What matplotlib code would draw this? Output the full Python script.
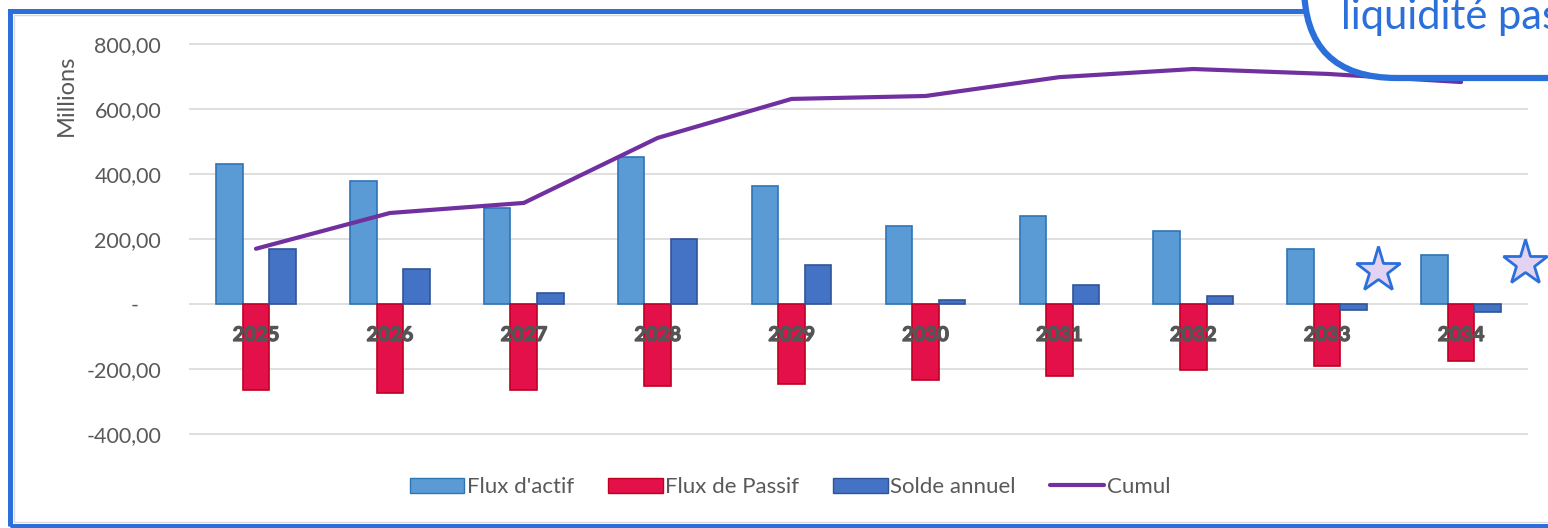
import numpy as np
import matplotlib
matplotlib.use("Agg")
import matplotlib.pyplot as plt
import matplotlib.patheffects as pe
from matplotlib.patches import Patch, Rectangle, FancyBboxPatch
from matplotlib.lines import Line2D
from matplotlib.ticker import FuncFormatter
from matplotlib.font_manager import FontProperties

plt.rcParams["font.family"] = ["Lato", "DejaVu Sans"]

years = ["2025", "2026", "2027", "2028", "2029", "2030", "2031", "2032", "2033", "2034"]
flux_actif = [431, 378, 295, 452, 363, 240, 271, 225, 169, 151]
flux_passif = [-265, -274, -265, -252, -246, -234, -221, -203, -191, -175]
solde_annuel = [169, 108, 34, 200, 120, 12, 58, 25, -18, -24]
cumul = [170, 280, 311, 511, 631, 640, 698, 723, 708, 683]
y_ticks = [-400, -200, 0, 200, 400, 600, 800]

grey = "#595959"
blue_frame = "#2B6FDB"
year_font = FontProperties(family="Lato", weight="bold", size=14.5)

W, H = 1548, 528
fig = plt.figure(figsize=(W / 100, H / 100), dpi=100)

# axes placed in pixels: x 189..1528, y for -410..810 with 0.325 px per unit
ymin, ymax = -410, 810
top_px = 304 - ymax * 0.325
bot_px = 304 - ymin * 0.325
ax = fig.add_axes([189 / W, 1 - bot_px / H, (1528 - 189) / W, (bot_px - top_px) / H])
ax.set_ylim(ymin, ymax)
ax.set_xlim(-0.5, len(years) - 0.5)

x = np.arange(len(years))
w = 0.198
ax.bar(x - w, flux_actif, w, color="#5B9BD5", edgecolor="#2E75B6", linewidth=1.2, label="Flux d'actif")
ax.bar(x, flux_passif, w, color="#E3104A", edgecolor="#C00020", linewidth=1.2, label="Flux de Passif")
ax.bar(x + w, solde_annuel, w, color="#4472C4", edgecolor="#2F5597", linewidth=1.2, label="Solde annuel")
ax.plot(x, cumul, color="#7030A0", linewidth=3.0, solid_capstyle="round", label="Cumul")

for t in y_ticks:
    ax.axhline(t, color="#D9D9D9", linewidth=1.2, zorder=0)

for s in ["top", "right", "left", "bottom"]:
    ax.spines[s].set_visible(False)

# category labels sit just under the zero line, on top of the bars
ax.set_xticks([])
for xi, yr in zip(x, years):
    ax.annotate(yr, (xi, 0), xytext=(0, -31), textcoords="offset pixels",
                ha="center", va="center", fontproperties=year_font,
                color="#555555", zorder=5,
                path_effects=[pe.withStroke(linewidth=0.9, foreground="#555555")])

ax.set_yticks(y_ticks)


def fmt(v, pos):
    if v == 0:
        return "-    "
    return f"{v:.2f}".replace(".", ",")


ax.yaxis.set_major_formatter(FuncFormatter(fmt))
ax.tick_params(axis="y", length=0, pad=20, labelsize=15.5, labelcolor=grey)

fig.text(66 / W, 1 - 95 / H, "Millions", rotation=90, ha="center", va="center",
         fontsize=17, color=grey)

handles = [
    Patch(facecolor="#5B9BD5", edgecolor="#2E75B6", label="Flux d'actif"),
    Patch(facecolor="#E3104A", edgecolor="#C00020", label="Flux de Passif"),
    Patch(facecolor="#4472C4", edgecolor="#2F5597", label="Solde annuel"),
    Line2D([0], [0], color="#7030A0", linewidth=3.0, solid_capstyle="round", label="Cumul"),
]
leg = fig.legend(handles=handles, loc="center", bbox_to_anchor=(790 / W, 1 - 487 / H), ncol=4,
                 frameon=False, fontsize=16, handlelength=2.45, handleheight=0.65,
                 handletextpad=0.1, columnspacing=1.55)
for t in leg.get_texts():
    t.set_color(grey)

# stars drawn on the chart
for sx, sy in [(1378, 270), (1525, 263)]:
    fig.add_artist(Line2D([sx / W], [1 - sy / H], marker="*", markersize=34,
                          markerfacecolor="#E2D3F2", markeredgecolor=blue_frame,
                          markeredgewidth=2, linestyle="None", transform=fig.transFigure))

# outer chart frame
fig.add_artist(Rectangle((9.5 / W, 1 - 526 / H), 1.2, (526 - 10.5) / H, transform=fig.transFigure,
                         fill=False, edgecolor=blue_frame, linewidth=3.6))
fig.add_artist(Rectangle((14 / W, 1 - 522 / H), 1.2, (522 - 15) / H, transform=fig.transFigure,
                         fill=False, edgecolor="#D9D9D9", linewidth=1))

# callout box at top right
fig.add_artist(FancyBboxPatch((1304 / W, 1 - 78 / H), 0.3, 0.4,
                              boxstyle="round,pad=0,rounding_size=0.06",
                              mutation_aspect=W / H,
                              transform=fig.transFigure, facecolor="white",
                              edgecolor=blue_frame, linewidth=4.5))
fig.text(1341 / W, 1 - 29 / H, "liquidité passif", fontsize=30, color=blue_frame,
         ha="left", va="baseline")

fig.savefig("out.png", dpi=100)
